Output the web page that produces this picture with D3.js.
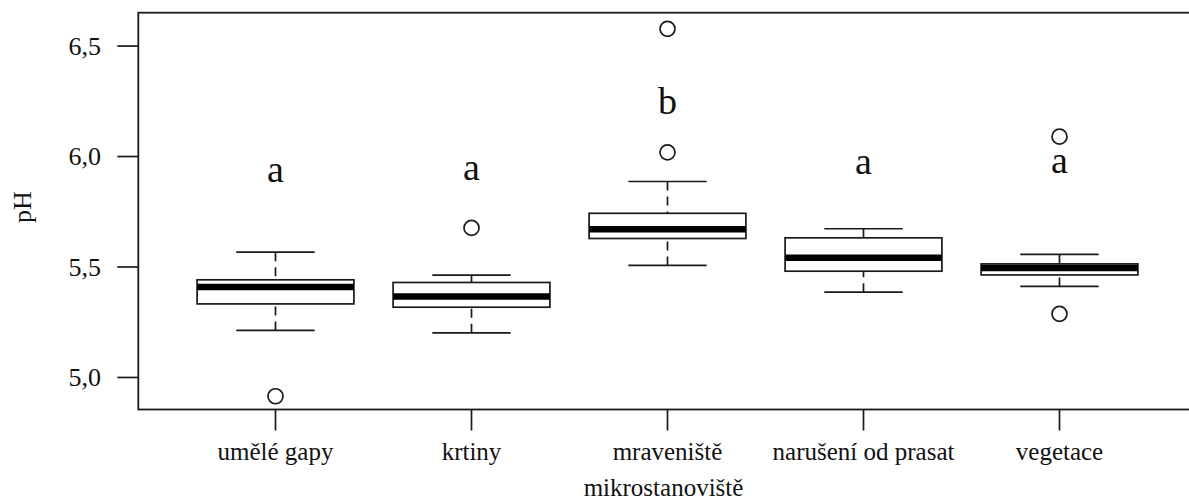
<!DOCTYPE html>
<html lang="cs">
  <head>
    <meta charset="UTF-8" />
    <title>pH podle mikrostanoviště</title>
    <script src="https://d3js.org/d3.v7.min.js"></script>
    <style>
      body { margin: 0; background: #fff; }
      svg text { font-family: "Liberation Serif", "Times New Roman", serif; fill: #111; }
    </style>
  </head>
  <body>
    <svg width="1189" height="503"></svg>
    <script>
      // data
      const categories = ["umělé gapy", "krtiny", "mraveniště", "narušení od prasat", "vegetace"];
      const whiskerLow = [5.213, 5.202, 5.507, 5.386, 5.412];
      const q1 = [5.333, 5.318, 5.629, 5.481, 5.464];
      const medians = [5.409, 5.367, 5.671, 5.542, 5.496];
      const q3 = [5.442, 5.430, 5.743, 5.632, 5.514];
      const whiskerHigh = [5.567, 5.463, 5.887, 5.673, 5.557];
      const outliers = [[4.915], [5.677], [6.578, 6.019], [], [6.090, 5.288]];
      const groupLetters = ["a", "a", "b", "a", "a"];
      const letterY = [5.884, 5.895, 6.193, 5.922, 5.924];
      const yTicks = [5.0, 5.5, 6.0, 6.5];

      const svg = d3.select("svg");
      const ink = "#1a1a1a";

      // plot region (right edge runs past the picture like the original)
      const plotL = 138.3, plotR = 1196.7, plotT = 12.7, plotB = 409.5;

      const x = d3.scaleLinear().domain([0.3, categories.length + 0.7]).range([plotL, plotR]);
      const y = d3.scaleLinear().domain([4.855, 6.651]).range([plotB, plotT]);
      const unit = x(1) - x(0);

      const boxes = categories.map((c, i) => ({
        name: c, pos: i + 1,
        lo: whiskerLow[i], q1: q1[i], med: medians[i], q3: q3[i], hi: whiskerHigh[i],
        out: outliers[i], letter: groupLetters[i], ly: letterY[i]
      }));

      const g = svg.append("g");

      const b = g.selectAll("g.box").data(boxes).enter().append("g").attr("class", "box");

      // whiskers, dashed from cap towards box
      b.append("line")
        .attr("x1", d => x(d.pos)).attr("x2", d => x(d.pos))
        .attr("y1", d => y(d.hi)).attr("y2", d => y(d.q3))
        .attr("stroke", ink).attr("stroke-width", 1.7).attr("stroke-dasharray", "9,6");
      b.append("line")
        .attr("x1", d => x(d.pos)).attr("x2", d => x(d.pos))
        .attr("y1", d => y(d.lo)).attr("y2", d => y(d.q1))
        .attr("stroke", ink).attr("stroke-width", 1.7).attr("stroke-dasharray", "9,6");

      // caps
      ["hi", "lo"].forEach(k => {
        b.append("line")
          .attr("x1", d => x(d.pos - 0.2)).attr("x2", d => x(d.pos + 0.2))
          .attr("y1", d => y(d[k])).attr("y2", d => y(d[k]))
          .attr("stroke", ink).attr("stroke-width", 1.7);
      });

      // box
      b.append("rect")
        .attr("x", d => x(d.pos - 0.4))
        .attr("width", 0.8 * unit)
        .attr("y", d => y(d.q3))
        .attr("height", d => y(d.q1) - y(d.q3))
        .attr("fill", "#fff").attr("stroke", ink).attr("stroke-width", 1.7);

      // median
      b.append("line")
        .attr("x1", d => x(d.pos - 0.4)).attr("x2", d => x(d.pos + 0.4))
        .attr("y1", d => y(d.med)).attr("y2", d => y(d.med))
        .attr("stroke", "#000").attr("stroke-width", 6.5);

      // outliers
      b.selectAll("circle").data(d => d.out.map(v => ({ pos: d.pos, v: v }))).enter()
        .append("circle")
        .attr("cx", d => x(d.pos)).attr("cy", d => y(d.v)).attr("r", 7.5)
        .attr("fill", "none").attr("stroke", ink).attr("stroke-width", 1.7);

      // significance letters
      b.append("text")
        .attr("x", d => x(d.pos)).attr("y", d => y(d.ly))
        .attr("text-anchor", "middle").attr("font-size", 38)
        .text(d => d.letter);

      // frame
      g.append("rect")
        .attr("x", plotL).attr("y", plotT)
        .attr("width", plotR - plotL).attr("height", plotB - plotT)
        .attr("fill", "none").attr("stroke", ink).attr("stroke-width", 1.8);

      // y axis
      const yAxis = g.append("g");
      yAxis.selectAll("line").data(yTicks).enter().append("line")
        .attr("x1", plotL - 21).attr("x2", plotL)
        .attr("y1", d => y(d)).attr("y2", d => y(d))
        .attr("stroke", ink).attr("stroke-width", 1.7);
      yAxis.selectAll("text").data(yTicks).enter().append("text")
        .attr("x", 101).attr("y", d => y(d)).attr("dy", "0.34em")
        .attr("text-anchor", "end").attr("font-size", 26)
        .text(d => d3.format(".1f")(d).replace(".", ","));

      // x axis
      const xAxis = g.append("g");
      xAxis.selectAll("line").data(boxes).enter().append("line")
        .attr("x1", d => x(d.pos)).attr("x2", d => x(d.pos))
        .attr("y1", plotB).attr("y2", plotB + 21)
        .attr("stroke", ink).attr("stroke-width", 1.7);
      xAxis.selectAll("text").data(boxes).enter().append("text")
        .attr("x", d => x(d.pos)).attr("y", 460)
        .attr("text-anchor", "middle").attr("font-size", 25)
        .text(d => d.name);

      // axis titles
      svg.append("text")
        .attr("x", (plotL + plotR) / 2 - 4).attr("y", 496)
        .attr("text-anchor", "middle").attr("font-size", 25)
        .text("mikrostanoviště");
      svg.append("text")
        .attr("transform", "translate(31,207) rotate(-90)")
        .attr("text-anchor", "middle").attr("font-size", 26)
        .text("pH");
    </script>
  </body>
</html>
